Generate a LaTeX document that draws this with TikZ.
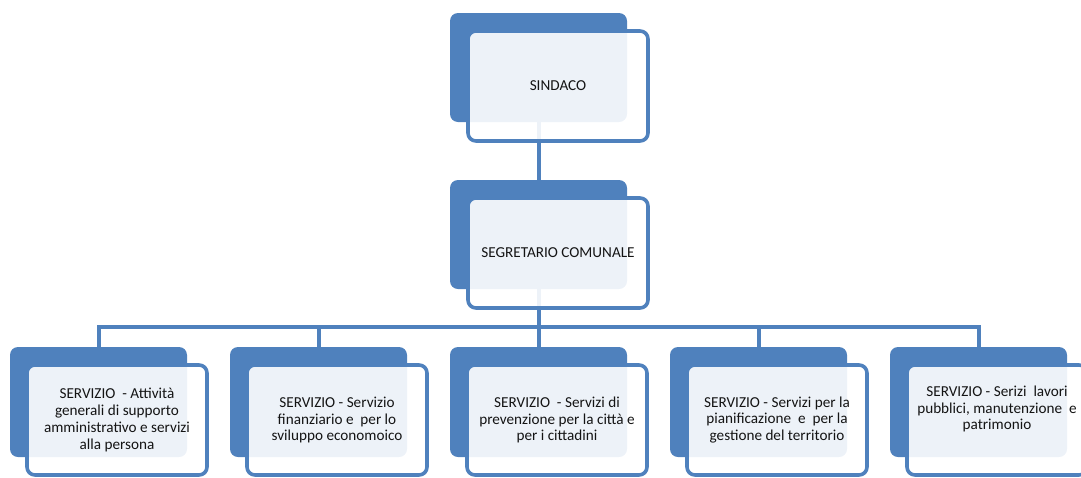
\documentclass[tikz,border=0pt]{standalone}
\usepackage{fontspec}
\setmainfont{Carlito}
\usetikzlibrary{backgrounds}
\definecolor{accent}{RGB}{79,129,189}
\definecolor{txtc}{RGB}{20,20,20}
\tikzset{
  backbox/.style={rectangle, rounded corners=8pt, fill=accent, draw=none,
    minimum width=177pt, minimum height=109pt, inner sep=0pt, outer sep=0pt, anchor=north west},
  frontbox/.style={rectangle, rounded corners=8pt, draw=accent, line width=3.6pt,
    fill=white, fill opacity=0.9, minimum width=180pt, minimum height=110pt,
    inner sep=0pt, outer sep=0pt, anchor=north west},
  conn/.style={draw=accent, line width=4pt, line join=miter},
  txt/.style={text=txtc, align=center, inner sep=0pt,
    font=\fontsize{15.2}{16.8}\selectfont}
}
\begin{document}
\begin{tikzpicture}[x=1pt,y=-1pt]
\useasboundingbox (0,0) rectangle (1081,477);
\clip (0,0) rectangle (1081,477);
% back boxes
\node[backbox] (sinb) at (450,13) {};
\node[backbox] (segb) at (450,180) {};
\node[backbox, minimum height=110pt] (b1b) at (10,347) {};
\node[backbox, minimum height=110pt] (b2b) at (230,347) {};
\node[backbox, minimum height=110pt] (b3b) at (450,347) {};
\node[backbox, minimum height=110pt] (b4b) at (670,347) {};
\node[backbox, minimum height=110pt] (b5b) at (890,347) {};
\coordinate (bus) at (538,327);
% connectors, below the boxes
\begin{scope}[on background layer]
\draw[conn] (sinb.south) -- (segb.north);
\draw[conn] (segb.south) -- (b3b.north);
\draw[conn] (b1b.north) |- (bus) -| (b5b.north);
\draw[conn] (b2b.north) |- (bus);
\draw[conn] (b4b.north) |- (bus);
\end{scope}
% front boxes
\node[frontbox] (sin) at (468,31) {};
\node[frontbox] (seg) at (468,198) {};
\node[frontbox] (f1) at (27,365) {};
\node[frontbox] (f2) at (247,365) {};
\node[frontbox] (f3) at (467,365) {};
\node[frontbox] (f4) at (687,365) {};
\node[frontbox] (f5) at (907,365) {};
% texts
\node[txt] (tsin) at (sin.center) {SINDACO};
\node[txt] (tseg) at (seg.center) {SEGRETARIO COMUNALE};
\node[txt] (t1) at (f1.center) {SERVIZIO\ \ - Attività\\generali di supporto\\amministrativo e servizi\\alla persona};
\node[txt] (t2) at (f2.center) {SERVIZIO - Servizio\\finanziario e\ \ per lo\\sviluppo economoico};
\node[txt] (t3) at (f3.center) {SERVIZIO\ \ - Servizi di\\prevenzione per la città e\\per i cittadini};
\node[txt] (t4) at (f4.center) {SERVIZIO - Servizi per la\\pianificazione\ \ e\ \ per la\\gestione del territorio};
\node[txt, yshift=11pt] (t5) at (f5.center) {SERVIZIO - Serizi\ \ lavori\\pubblici, manutenzione\ \ e\\patrimonio};
\end{tikzpicture}
\end{document}
